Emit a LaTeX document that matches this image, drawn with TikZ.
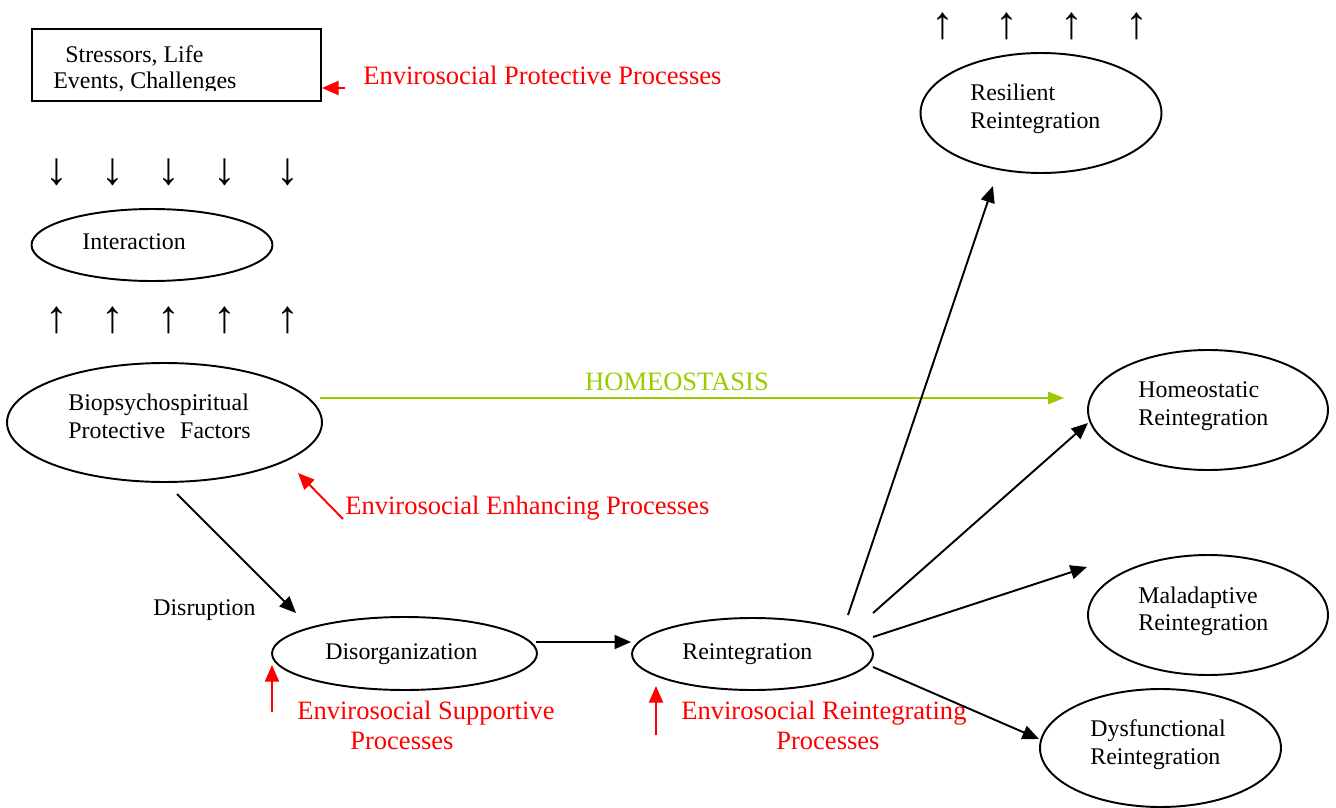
\documentclass[tikz,border=0pt]{standalone}
\usepackage{fontspec}
\setmainfont{Liberation Serif}
\usetikzlibrary{arrows.meta,calc,shapes.geometric}
\definecolor{hgreen}{RGB}{153,204,0}
\begin{document}
\begin{tikzpicture}[x=0.02cm,y=-0.02cm,
  ell/.style={ellipse, draw, line width=1.1pt, inner sep=0pt, outer sep=0pt},
  txt/.style={font=\fontsize{13.6}{16}\selectfont, anchor=base west, inner sep=0pt},
  rtxt/.style={font=\fontsize{15.1}{17}\selectfont, text=red, anchor=base west, inner sep=0pt},
  glyph/.style={font=\fontsize{26}{28}\selectfont, inner sep=0pt},
  arr/.style={line width=1.1pt, -{Triangle[length=0.33cm,width=0.28cm]}},
  rarr/.style={arr, red},
  garr/.style={line width=0.9pt, hgreen, -{Triangle[length=0.32cm,width=0.25cm]}}]
\useasboundingbox (0,0) rectangle (1336,808);

% stressors box
\node[draw, line width=1.1pt, minimum width=5.78cm, minimum height=1.44cm, inner sep=0pt, outer sep=0pt] (rect) at (176.5,65) {};
\begin{scope}
  \clip (33,30) rectangle (320,90.5);
  \node[txt] (t1) at (65,62) {Stressors, Life};
  \node[txt] (t2) at (53,88) {Events, Challenges};
\end{scope}
\coordinate (protTail) at (345,88);
\draw[rarr] (protTail) -- ($(rect)+(145.5,23)$);
\node[rtxt] (prot) at (363,84) {Envirosocial Protective Processes};

% glyph arrows
\foreach \x [count=\i] in {57,113,169,225,288} {
  \node[glyph] (dn\i) at (\x,172) {↓};
  \node[glyph] (up\i) at (\x,320) {↑};
}
\foreach \x [count=\i] in {943,1007,1072,1137} {
  \node[glyph] (top\i) at (\x,26) {↑};
}

% ellipses
\node[ell, minimum width=4.82cm, minimum height=1.44cm] (inter) at (152,245) {};
\node[txt] (tinter) at (82,249) {Interaction};

\node[ell, minimum width=6.3cm, minimum height=2.38cm] (bio) at (164.5,422.5) {};
\node[txt] (tbio1) at (68,410) {Biopsychospiritual};
\node[txt] (tbio2) at (68,438) {Protective\hspace{0.3cm}Factors};

\node[ell, minimum width=5.3cm, minimum height=1.46cm] (disorg) at (404.5,653.5) {};
\node[txt] (tdis) at (325,659) {Disorganization};

\node[ell, minimum width=4.82cm, minimum height=1.44cm] (reint) at (752.5,654) {};
\node[txt] (trei) at (682,659) {Reintegration};

\node[ell, minimum width=4.82cm, minimum height=2.4cm] (resil) at (1041,113) {};
\node[txt] (tres1) at (970,100) {Resilient};
\node[txt] (tres2) at (970,128) {Reintegration};

\node[ell, minimum width=4.8cm, minimum height=2.4cm] (homeo) at (1208,410) {};
\node[txt] (thom1) at (1138,397) {Homeostatic};
\node[txt] (thom2) at (1138,425) {Reintegration};

\node[ell, minimum width=4.8cm, minimum height=2.4cm] (malad) at (1208,615) {};
\node[txt] (tmal1) at (1138,603) {Maladaptive};
\node[txt] (tmal2) at (1138,630) {Reintegration};

\node[ell, minimum width=4.82cm, minimum height=2.36cm] (dysf) at (1160.5,748) {};
\node[txt] (tdys1) at (1090,736) {Dysfunctional};
\node[txt] (tdys2) at (1090,764) {Reintegration};

% homeostasis
\draw[garr] ($(bio)+(155.5,-24.5)$) -- ($(homeo)+(-144,-12)$);
\node[font=\fontsize{15.1}{17}\selectfont, text=hgreen, anchor=base, inner sep=0pt] (thomeo) at (677,390) {HOMEOSTASIS};

% enhancing
\coordinate (enhTail) at (343,519);
\draw[rarr] (enhTail) -- ($(bio)+(133.5,50.5)$);
\node[rtxt] (enh) at (345,514) {Envirosocial Enhancing Processes};

% disruption
\draw[arr] ($(bio)+(12.5,71.5)$) -- ($(disorg)+(-108.5,-40.5)$);
\node[txt] (tdisr) at (153,615) {Disruption};

% supportive
\coordinate (supTail) at (272,712);
\draw[rarr] (supTail) -- ($(disorg)+(-132.5,11.5)$);
\node[rtxt] (sup1) at (297,719) {Envirosocial Supportive};
\node[rtxt] (sup2) at (350,749) {Processes};

% disorg -> reint
\draw[arr] ($(disorg)+(131.5,-11.5)$) -- ($(reint)+(-121.5,-12)$);

% reintegrating
\coordinate (reiTail) at (656,735);
\draw[rarr] (reiTail) -- ($(reint)+(-96.5,32)$);
\node[rtxt] (rei1) at (681,719) {Envirosocial Reintegrating};
\node[rtxt] (rei2) at (776,749) {Processes};

% outcome arrows
\draw[arr] ($(reint)+(95.5,-39)$) -- ($(resil)+(-48,73)$);
\draw[arr] ($(reint)+(120.5,-41)$) -- ($(homeo)+(-120,13)$);
\draw[arr] ($(reint)+(120.5,-17)$) -- ($(malad)+(-121,-48)$);
\draw[arr] ($(reint)+(120.5,13)$) -- ($(dysf)+(-121.5,-9)$);
\end{tikzpicture}
\end{document}
